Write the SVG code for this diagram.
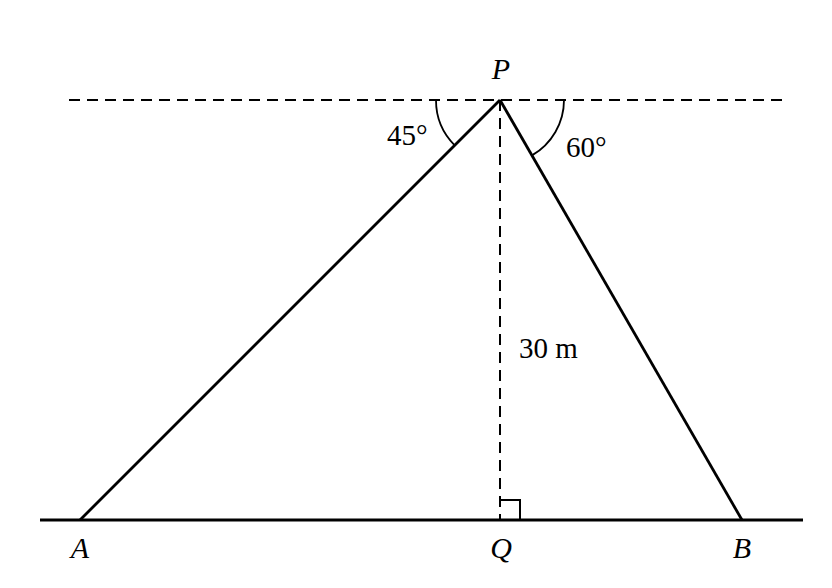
<svg xmlns="http://www.w3.org/2000/svg" width="832" height="588" viewBox="0 0 832 588">
<style>
.solid{stroke:#000;stroke-width:2.8;fill:none;stroke-linecap:butt}
.dash{stroke:#000;stroke-width:2;fill:none;stroke-dasharray:11 7}
.arc{stroke:#000;stroke-width:1.8;fill:none}
.lbl{font-family:"Liberation Serif","DejaVu Serif",serif;font-size:30px;font-style:italic;fill:#000;text-anchor:middle}
.num{font-family:"Liberation Serif","DejaVu Serif",serif;font-size:29px;fill:#000}
</style>
<rect width="832" height="588" fill="#fff"/>
<g id="connectors">
<line class="dash" x1="69" y1="100" x2="786" y2="100"/>
<line class="dash" x1="500" y1="100" x2="500" y2="520"/>
<line class="solid" x1="40" y1="520" x2="803" y2="520"/>
<line class="solid" x1="500" y1="100" x2="80" y2="520"/>
<line class="solid" x1="500" y1="100" x2="742" y2="520"/>
<path class="arc" d="M436,100 A64,64 0 0 0 454.7,145.3"/>
<path class="arc" d="M564,100 A64,64 0 0 1 532,155.4"/>
<path class="arc" d="M500,500 H520 V520" style="stroke-width:2"/>
</g>
<g id="P"><text class="lbl" x="501" y="79">P</text></g>
<g id="A"><text class="lbl" x="80" y="558">A</text></g>
<g id="Q"><text class="lbl" x="501" y="558">Q</text></g>
<g id="B"><text class="lbl" x="742" y="558">B</text></g>
<g id="angle45"><text class="num" x="387" y="145">45°</text></g>
<g id="angle60"><text class="num" x="566" y="157">60°</text></g>
<g id="height"><text class="num" x="519" y="358">30 m</text></g>
</svg>
